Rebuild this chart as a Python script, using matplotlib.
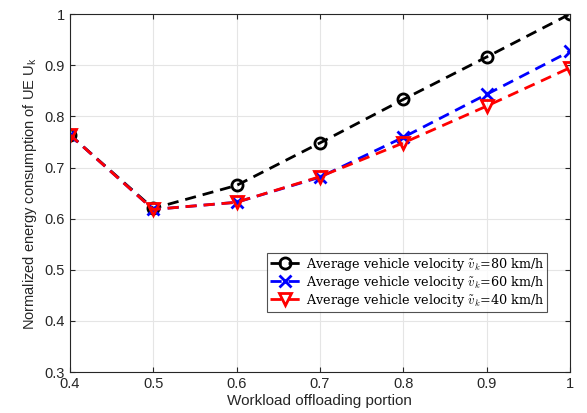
import numpy as np
import matplotlib.pyplot as plt

plt.rcParams['mathtext.fontset'] = 'cm'
plt.rcParams['font.family'] = 'Liberation Sans'

portion = [0.4, 0.5, 0.6, 0.7, 0.8, 0.9, 1.0]
energy_80 = [0.764, 0.620, 0.665, 0.748, 0.833, 0.916, 1.000]
energy_60 = [0.764, 0.618, 0.632, 0.681, 0.759, 0.843, 0.927]
energy_40 = [0.764, 0.618, 0.632, 0.682, 0.748, 0.820, 0.895]

fig = plt.figure(figsize=(5.87, 4.13), dpi=100)
ax = fig.add_axes([0.119, 0.099, 0.852, 0.867])

lw = 2
dash = (4, 2.5)
ax.plot(portion, energy_80, '--o', color='black', lw=lw, ms=8, mfc='none', mew=2,
        dashes=dash, label=r'Average vehicle velocity $\tilde{v}_k$=80 km/h')
ax.plot(portion, energy_60, '--x', color='blue', lw=lw, ms=8, mew=2,
        dashes=dash, label=r'Average vehicle velocity $\tilde{v}_k$=60 km/h')
ax.plot(portion, energy_40, '--v', color='red', lw=lw, ms=9, mfc='none', mew=2,
        dashes=dash, label=r'Average vehicle velocity $\tilde{v}_k$=40 km/h')

ax.set_xlim(0.4, 1.0)
ax.set_ylim(0.3, 1.0)
ax.set_xticks(np.arange(0.4, 1.01, 0.1))
ax.set_xticklabels(['0.4', '0.5', '0.6', '0.7', '0.8', '0.9', '1'])
ax.set_yticks(np.arange(0.3, 1.01, 0.1))
ax.set_yticklabels(['0.3', '0.4', '0.5', '0.6', '0.7', '0.8', '0.9', '1'])
ax.tick_params(direction='in', top=True, right=True, labelsize=10.5, colors='#262626')
ax.grid(True, color='#e5e5e5', lw=0.8)
for s in ax.spines.values():
    s.set_color('#262626')

ax.set_xlabel('Workload offloading portion', fontsize=11, color='#262626', labelpad=2)
ax.set_ylabel(r'Normalized energy consumption of UE U$_\mathregular{k}$', fontsize=10.5,
              color='#262626', labelpad=4)

leg = ax.legend(loc='lower right', bbox_to_anchor=(0.955, 0.168), fancybox=False,
                edgecolor='#262626', prop={'family': 'DejaVu Serif', 'size': 9.2},
                handlelength=2.4, borderpad=0.25, labelspacing=0.08, handletextpad=0.4,
                borderaxespad=0)
leg.get_frame().set_linewidth(0.8)

fig.savefig('out.png', dpi=100)
